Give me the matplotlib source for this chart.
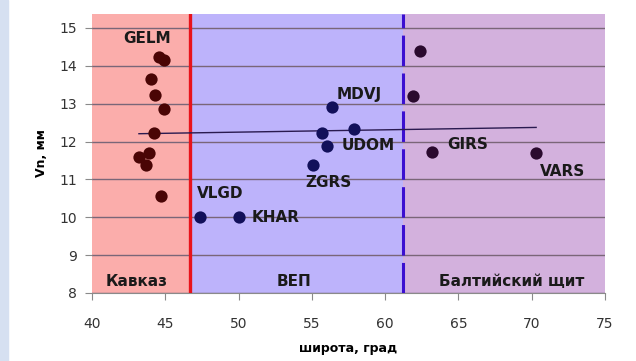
import matplotlib
matplotlib.use("Agg")
import matplotlib.pyplot as plt
import numpy as np

# latitude / Vn, by region
kavkaz_lat = [44.6, 44.9, 44.0, 44.3, 44.9, 44.2, 43.2, 43.9, 43.7, 44.7]
kavkaz_vn = [14.24, 14.15, 13.66, 13.22, 12.87, 12.22, 11.60, 11.71, 11.38, 10.57]
vep_lat = [47.4, 50.0, 55.1, 55.7, 56.0, 56.4, 57.9]
vep_vn = [10.0, 10.02, 11.38, 12.22, 11.88, 12.92, 12.32]
balt_lat = [62.4, 61.9, 63.2, 70.3]
balt_vn = [14.40, 13.21, 11.72, 11.71]

regions = ["Кавказ", "ВЕП", "Балтийский щит"]
borders = [40, 46.7, 61.2, 75]
region_colors = ["#fbadab", "#bdb3fb", "#d3b1dd"]

stations = ["GELM", "VLGD", "KHAR", "ZGRS", "MDVJ", "UDOM", "GIRS", "VARS"]
station_xy = [(43.75, 14.72), (47.15, 10.63), (50.9, 10.0), (56.1, 10.93),
              (56.7, 13.23), (57.05, 11.9), (64.25, 11.93), (70.55, 11.2)]
station_ha = ["center", "left", "left", "center", "left", "left", "left", "left"]

fig = plt.figure(figsize=(6.36, 3.61), dpi=100)
fig.patches.append(plt.Rectangle((0, 0), 0.013, 1, transform=fig.transFigure,
                                 color="#d6e0f1", zorder=0))
ax = fig.add_axes([0.1447, 0.1884, 0.8066, 0.7729])

for i in range(3):
    ax.axvspan(borders[i], borders[i + 1], color=region_colors[i], zorder=0, lw=0)

ax.set_xlim(40, 75)
ax.set_ylim(8, 15.37)
ax.set_yticks(range(8, 16))
ax.set_xticks(range(40, 80, 5))
ax.grid(axis="y", color="#7a6678", lw=1.0, zorder=1)
for s in ["top", "right", "left"]:
    ax.spines[s].set_visible(False)
ax.spines["bottom"].set_color("#8a8a8a")
ax.tick_params(axis="both", colors="#8a8a8a", labelcolor="#333333", labelsize=10)
ax.tick_params(axis="x", length=5, pad=12)
ax.tick_params(axis="y", length=5, pad=6)

ax.axvline(46.7, color="#e8131b", lw=2.4, zorder=3)
ax.axvline(61.2, color="#3b0fd0", lw=2.2, ls=(0, (10, 2.4)), zorder=3)

# trend line over all points
all_x = np.array(kavkaz_lat + vep_lat + balt_lat)
all_y = np.array(kavkaz_vn + vep_vn + balt_vn)
k, b = np.polyfit(all_x, all_y, 1)
tx = np.array([all_x.min(), all_x.max()])
ax.plot(tx, k * tx + b, color="#2a1a50", lw=1.0, zorder=4)

ax.scatter(kavkaz_lat, kavkaz_vn, s=78, color="#4a0505", zorder=5, lw=0)
ax.scatter(vep_lat, vep_vn, s=78, color="#12105a", zorder=5, lw=0)
ax.scatter(balt_lat, balt_vn, s=78, color="#2a0a2e", zorder=5, lw=0)

for name, (x, y), ha in zip(stations, station_xy, station_ha):
    ax.text(x, y, name, ha=ha, va="center", fontsize=11, fontweight="bold",
            color="#1a1a1a", zorder=6)

label_x = [40.95, 52.6, 63.7]
for name, x in zip(regions, label_x):
    ax.text(x, 8.3, name, ha="left", va="center", fontsize=11,
            fontweight="bold", color="#1a1a1a", zorder=6)

ax.set_xlabel("широта, град", fontsize=9, fontweight="bold", labelpad=8)
ax.set_ylabel("Vn, мм", fontsize=9, fontweight="bold", labelpad=8)

fig.savefig("out.png", dpi=100)
